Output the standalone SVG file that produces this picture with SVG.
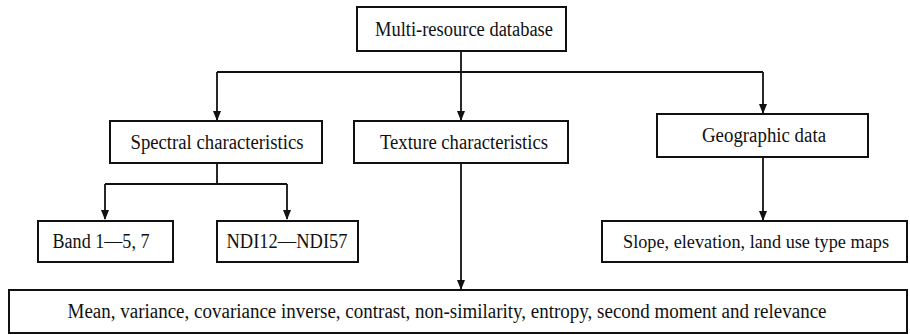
<svg xmlns="http://www.w3.org/2000/svg" width="910" height="335" viewBox="0 0 910 335">
<style>
.box{fill:#fff;stroke:#111;stroke-width:2}
.t{font-family:"Liberation Serif","Times New Roman",serif;font-size:20px;fill:#111;text-anchor:middle}
.c{fill:none;stroke:#111;stroke-width:1.8}
</style>
<defs>
<marker id="ah" markerWidth="10" markerHeight="12" refX="9" refY="5" orient="auto" markerUnits="userSpaceOnUse" viewBox="0 0 10 10">
<path d="M0,1 L10,5 L0,9 z" fill="#111"/>
</marker>
</defs>
<rect width="910" height="335" fill="#fff"/>
<g id="connectors">
<path class="c" d="M461,51 V72"/>
<path class="c" d="M217,72 H763"/>
<path class="c" d="M217,72 V120" marker-end="url(#ah)"/>
<path class="c" d="M461,72 V120" marker-end="url(#ah)"/>
<path class="c" d="M763,72 V113" marker-end="url(#ah)"/>
<path class="c" d="M217,163 V184 M105,184 H287"/>
<path class="c" d="M105,184 V219" marker-end="url(#ah)"/>
<path class="c" d="M287,184 V219" marker-end="url(#ah)"/>
<path class="c" d="M461,163 V289" marker-end="url(#ah)"/>
<path class="c" d="M763,157 V220" marker-end="url(#ah)"/>
</g>
<g id="multi-resource">
<rect class="box" x="357" y="7" width="209" height="44"/>
<text class="t" x="464" y="36" textLength="178" lengthAdjust="spacingAndGlyphs">Multi-resource database</text>
</g>
<g id="spectral">
<rect class="box" x="110" y="121" width="212" height="42"/>
<text class="t" x="217" y="149" textLength="173" lengthAdjust="spacingAndGlyphs">Spectral characteristics</text>
</g>
<g id="texture">
<rect class="box" x="354" y="121" width="214" height="42"/>
<text class="t" x="464" y="149" textLength="168" lengthAdjust="spacingAndGlyphs">Texture characteristics</text>
</g>
<g id="geographic">
<rect class="box" x="657" y="114" width="211" height="43"/>
<text class="t" x="764" y="142" textLength="124" lengthAdjust="spacingAndGlyphs">Geographic data</text>
</g>
<g id="band">
<rect class="box" x="38" y="221" width="135" height="41"/>
<text class="t" x="101" y="248" textLength="97" lengthAdjust="spacingAndGlyphs">Band 1—5, 7</text>
</g>
<g id="ndi">
<rect class="box" x="217" y="221" width="141" height="41"/>
<text class="t" x="287" y="248" textLength="121" lengthAdjust="spacingAndGlyphs">NDI12—NDI57</text>
</g>
<g id="slope">
<rect class="box" x="602" y="221" width="305" height="41"/>
<text class="t" x="756" y="248" style="font-size:18.5px" textLength="266" lengthAdjust="spacingAndGlyphs">Slope, elevation, land use type maps</text>
</g>
<g id="measures">
<rect class="box" x="9" y="290" width="898" height="43"/>
<text class="t" x="447" y="318" textLength="759" lengthAdjust="spacingAndGlyphs">Mean, variance, covariance inverse, contrast, non-similarity, entropy, second moment and relevance</text>
</g>
</svg>
